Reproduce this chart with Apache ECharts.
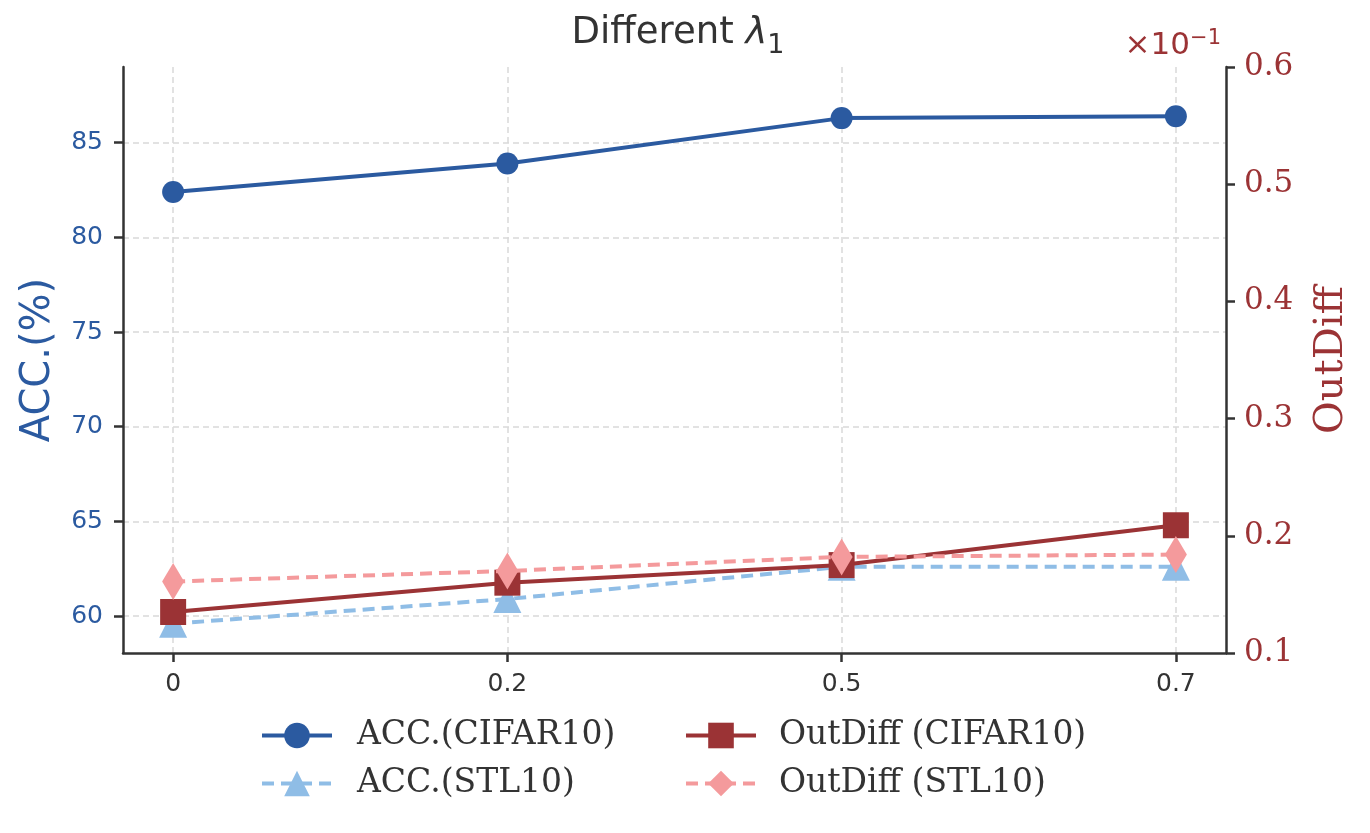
<!DOCTYPE html>
<html>
<head>
<meta charset="utf-8">
<script src="https://cdn.jsdelivr.net/npm/echarts@6/dist/echarts.min.js"></script>
<style>html,body{margin:0;padding:0;background:#fff}#c{width:1370px;height:833px}</style>
</head>
<body>
<div id="c"></div>
<script>
const categories = ['0', '0.2', '0.5', '0.7'];
const accCifar = [82.4, 83.9, 86.3, 86.4];
const accStl = [59.6, 60.9, 62.6, 62.6];
const outCifar = [0.135, 0.160, 0.175, 0.209];
const outStl = [0.161, 0.170, 0.182, 0.184];
const accTicks = [60, 65, 70, 75, 80, 85];

const BLUE = '#2b5aa0', LBLUE = '#8fbde6', RED = '#9b3335', PINK = '#f49a9c', DARK = '#333333';
const pts = arr => arr.map((v, i) => [i, v]);
const GRIDLINE = { show: true, lineStyle: { color: '#d9d9d9', type: [6, 4], width: 1.5 } };

const chart = echarts.init(document.getElementById('c'));
chart.setOption({
  animation: false,
  backgroundColor: '#fff',
  title: {
    text: '{a|Different }{l|λ}{s|1}',
    left: 673, top: 3, textAlign: 'center',
    textStyle: { rich: {
      a: { fontFamily: 'DejaVu Sans', fontSize: 37, lineHeight: 51, fontWeight: 'normal', color: DARK },
      l: { fontFamily: 'DejaVu Sans', fontSize: 37, lineHeight: 51, fontWeight: 'normal', fontStyle: 'italic', color: DARK },
      s: { fontFamily: 'DejaVu Sans', fontSize: 27, lineHeight: 27, fontWeight: 'normal', verticalAlign: 'bottom', color: DARK }
    } }
  },
  graphic: [{
    type: 'text', x: 1221, y: 28,
    style: {
      text: '{a|×10}{b|−1}', align: 'right', verticalAlign: 'top',
      rich: {
        a: { fontFamily: 'DejaVu Sans', fontSize: 31, lineHeight: 36, fill: RED, color: RED },
        b: { fontFamily: 'DejaVu Sans', fontSize: 21, lineHeight: 21, verticalAlign: 'top', fill: RED, color: RED }
      }
    }
  }],
  grid: { left: 123, right: 144, top: 67, bottom: 180 },
  xAxis: {
    type: 'value', min: -0.15, max: 3.15,
    axisLine: { show: true, onZero: false, lineStyle: { color: DARK, width: 2.5 } },
    axisTick: { show: true, length: 9, lineStyle: { color: DARK, width: 2.5 }, customValues: [0, 1, 2, 3] },
    axisLabel: { customValues: [0, 1, 2, 3], formatter: v => categories[Math.round(v)], margin: 19,
      fontFamily: 'DejaVu Sans', fontSize: 25, color: DARK },
    splitLine: GRIDLINE
  },
  yAxis: [{
    type: 'value', min: 58.05, max: 89.0, position: 'left',
    name: 'ACC.(%)', nameLocation: 'middle', nameGap: 64,
    nameTextStyle: { fontFamily: 'DejaVu Sans', fontSize: 40, color: BLUE },
    axisLine: { show: true, onZero: false, lineStyle: { color: DARK, width: 2.5 } },
    axisTick: { show: true, length: 9, lineStyle: { color: DARK, width: 2.5 }, customValues: accTicks },
    axisLabel: { customValues: accTicks, margin: 20, fontFamily: 'DejaVu Sans', fontSize: 25, color: BLUE },
    splitLine: GRIDLINE
  }, {
    type: 'value', min: 0.1, max: 0.6, interval: 0.1, position: 'right',
    name: 'OutDiff', nameLocation: 'middle', nameGap: 86,
    nameTextStyle: { fontFamily: 'DejaVu Serif', fontSize: 40, color: RED },
    axisLine: { show: true, onZero: false, lineStyle: { color: DARK, width: 2.5 } },
    axisTick: { show: true, length: 9, lineStyle: { color: DARK, width: 2.5 } },
    axisLabel: { formatter: v => v.toFixed(1), margin: 18, fontFamily: 'DejaVu Serif', fontSize: 31, color: RED },
    splitLine: { show: false }
  }],
  legend: [{
    orient: 'vertical', left: 255, top: 714, itemWidth: 70, itemHeight: 32, itemGap: 15,
    data: ['ACC.(CIFAR10)', 'ACC.(STL10)'],
    lineStyle: { width: 4 },
    textStyle: { fontFamily: 'DejaVu Serif', fontSize: 33, color: DARK, padding: [0, 0, 0, 20] }
  }, {
    orient: 'vertical', left: 679, top: 714, itemWidth: 70, itemHeight: 32, itemGap: 15,
    data: ['OutDiff (CIFAR10)', 'OutDiff (STL10)'],
    lineStyle: { width: 4 },
    textStyle: { fontFamily: 'DejaVu Serif', fontSize: 33, color: DARK, padding: [0, 0, 0, 18] }
  }],
  series: [{
    name: 'ACC.(CIFAR10)', type: 'line', yAxisIndex: 0, data: pts(accCifar),
    symbol: 'circle', symbolSize: 22, z: 2,
    lineStyle: { color: BLUE, width: 4 }, itemStyle: { color: BLUE }
  }, {
    name: 'ACC.(STL10)', type: 'line', yAxisIndex: 0, data: pts(accStl),
    symbol: 'triangle', symbolSize: 28, z: 3,
    lineStyle: { color: LBLUE, width: 4, type: [12, 7] }, itemStyle: { color: LBLUE }
  }, {
    name: 'OutDiff (CIFAR10)', type: 'line', yAxisIndex: 1, data: pts(outCifar),
    symbol: 'rect', symbolSize: 26, z: 4,
    lineStyle: { color: RED, width: 4 }, itemStyle: { color: RED }
  }, {
    name: 'OutDiff (STL10)', type: 'line', yAxisIndex: 1, data: pts(outStl),
    symbol: 'diamond', symbolSize: [22, 37], z: 5,
    lineStyle: { color: PINK, width: 4, type: [12, 7] }, itemStyle: { color: PINK }
  }]
});
</script>
</body>
</html>
